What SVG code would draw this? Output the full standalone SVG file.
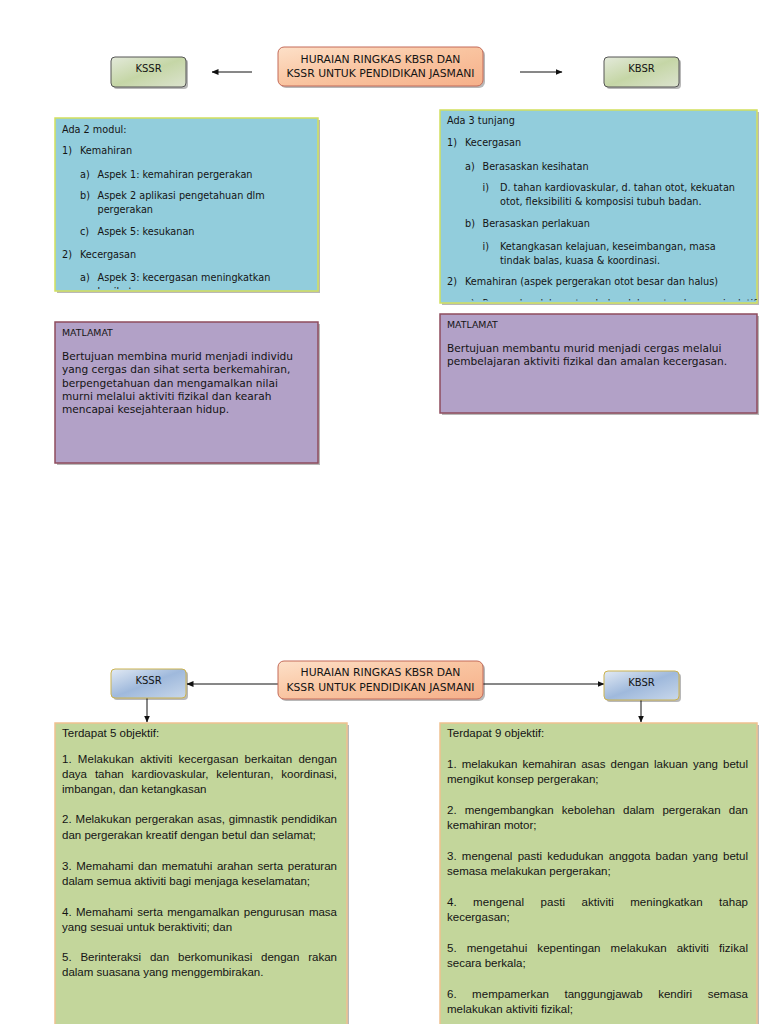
<svg xmlns="http://www.w3.org/2000/svg" width="768" height="1024" viewBox="0 0 768 1024">
<style>
.d{font-family:"DejaVu Sans",Verdana,sans-serif;fill:#141414}
.sm{font-size:9.7px}
.md{font-size:10.6px}
.hd{font-size:9.4px}
.ttl{font-size:10.8px;text-anchor:middle}
.lbl{font-size:10px;text-anchor:middle}
.g{font-family:"Liberation Sans",Arial,sans-serif;font-size:11.5px;fill:#141414}
.conn{stroke:#111;stroke-width:1;fill:none}
.shadow{fill:#000;opacity:0.28}
.hdrbox{fill:url(#peach);stroke:#c46a58;stroke-width:1}
.gbox{fill:url(#greenG);stroke:#555;stroke-width:1}
.bbox{fill:url(#blueG);stroke:#cbb24e;stroke-width:1}
.blue{fill:#92cddc;stroke:#d2df5e;stroke-width:1.5}
.purple{fill:#b2a1c7;stroke:#8e4c5e;stroke-width:1.5}
.green{fill:#c3d69b;stroke:#efc190;stroke-width:1.5}
</style>
<defs>
<linearGradient id="peach" x1="0" y1="0" x2="1" y2="1">
<stop offset="0" stop-color="#fde0c8"/><stop offset="0.5" stop-color="#f9c4a0"/><stop offset="1" stop-color="#f6b08a"/>
</linearGradient>
<linearGradient id="greenG" x1="0" y1="0" x2="1" y2="1">
<stop offset="0" stop-color="#e4eadb"/><stop offset="0.5" stop-color="#c5d6a6"/><stop offset="1" stop-color="#dce3cf"/>
</linearGradient>
<linearGradient id="blueG" x1="0" y1="0" x2="1" y2="1">
<stop offset="0" stop-color="#e2eaf4"/><stop offset="0.5" stop-color="#9fb9dc"/><stop offset="1" stop-color="#c9d8eb"/>
</linearGradient>
<marker id="ah" markerWidth="7" markerHeight="6" refX="6.5" refY="3" orient="auto" markerUnits="userSpaceOnUse">
<path d="M0,0 L7,3 L0,6 Z" fill="#111"/>
</marker>
<clipPath id="clipL"><rect x="55" y="118" width="263" height="171"/></clipPath>
<clipPath id="clipR"><rect x="440" y="110" width="317" height="190.5"/></clipPath>
</defs>
<rect width="768" height="1024" fill="#fff"/>

<g id="connectors">
<line class="conn" x1="252" y1="72" x2="212" y2="72" marker-end="url(#ah)"/>
<line class="conn" x1="520" y1="72" x2="562" y2="72" marker-end="url(#ah)"/>
<line class="conn" x1="278" y1="684" x2="187" y2="684" marker-end="url(#ah)"/>
<line class="conn" x1="483" y1="684" x2="604" y2="684" marker-end="url(#ah)"/>
<line class="conn" x1="147" y1="698" x2="147" y2="722" marker-end="url(#ah)"/>
<line class="conn" x1="641" y1="700" x2="641" y2="722" marker-end="url(#ah)"/>
</g>

<g id="top-header">
<rect class="shadow" x="280" y="49" width="205" height="39" rx="6"/>
<rect class="hdrbox" x="278" y="47" width="205" height="39" rx="6"/>
<text class="d ttl" x="380.5" y="62.5">HURAIAN RINGKAS KBSR DAN</text>
<text class="d ttl" x="380.5" y="76.5">KSSR UNTUK PENDIDIKAN JASMANI</text>
</g>
<g id="top-kssr">
<rect class="shadow" x="113" y="59" width="75" height="30" rx="4"/>
<rect class="gbox" x="111" y="57" width="75" height="30" rx="4"/>
<text class="d lbl" x="148.5" y="71.5">KSSR</text>
</g>
<g id="top-kbsr">
<rect class="shadow" x="606" y="59" width="75" height="30" rx="4"/>
<rect class="gbox" x="604" y="57" width="75" height="30" rx="4"/>
<text class="d lbl" x="641.5" y="71.5">KBSR</text>
</g>

<g id="kssr-modul">
<rect class="shadow" x="57" y="120" width="263" height="173"/>
<rect class="blue" x="55" y="118" width="263" height="173"/>
<g class="d sm" clip-path="url(#clipL)">
<text x="62" y="132.5">Ada 2 modul:</text>
<text x="62" y="154">1)</text><text x="80" y="154">Kemahiran</text>
<text x="80" y="177.5">a)</text><text x="97.5" y="177.5">Aspek 1: kemahiran pergerakan</text>
<text x="80" y="199">b)</text><text x="97.5" y="199">Aspek 2 aplikasi pengetahuan dlm</text>
<text x="97.5" y="212.7">pergerakan</text>
<text x="80" y="235">c)</text><text x="97.5" y="235">Aspek 5: kesukanan</text>
<text x="62" y="258">2)</text><text x="80" y="258">Kecergasan</text>
<text x="80" y="281">a)</text><text x="97.5" y="281">Aspek 3: kecergasan meningkatkan</text>
<text x="97.5" y="295">kesihatan</text>
</g>
</g>

<g id="kbsr-tunjang">
<rect class="shadow" x="442" y="112" width="317" height="193"/>
<rect class="blue" x="440" y="110" width="317" height="193"/>
<g class="d sm" clip-path="url(#clipR)">
<text x="447" y="124">Ada 3 tunjang</text>
<text x="447" y="146">1)</text><text x="465" y="146">Kecergasan</text>
<text x="465" y="169.5">a)</text><text x="482.5" y="169.5">Berasaskan kesihatan</text>
<text x="482.5" y="191">i)</text><text x="500" y="191">D. tahan kardiovaskular, d. tahan otot, kekuatan</text>
<text x="500" y="205">otot, fleksibiliti &amp; komposisi tubuh badan.</text>
<text x="465" y="227">b)</text><text x="482.5" y="227">Berasaskan perlakuan</text>
<text x="482.5" y="250">i)</text><text x="500" y="250">Ketangkasan kelajuan, keseimbangan, masa</text>
<text x="500" y="263.7">tindak balas, kuasa &amp; koordinasi.</text>
<text x="447" y="285">2)</text><text x="465" y="285">Kemahiran (aspek pergerakan otot besar dan halus)</text>
<text x="465" y="306.5">a)</text><text x="482.5" y="306.5">Pergerakan lokomotor, bukan lokomotor dan manipulatif</text>
</g>
</g>

<g id="kssr-matlamat">
<rect class="shadow" x="57" y="324" width="263" height="141"/>
<rect class="purple" x="55" y="322" width="263" height="141"/>
<text class="d hd" x="62" y="335.5">MATLAMAT</text>
<g class="d md">
<text x="62" y="360">Bertujuan membina murid menjadi individu</text>
<text x="62" y="373.3">yang cergas dan sihat serta berkemahiran,</text>
<text x="62" y="386.6">berpengetahuan dan mengamalkan nilai</text>
<text x="62" y="399.9">murni melalui aktiviti fizikal dan kearah</text>
<text x="62" y="413">mencapai kesejahteraan hidup.</text>
</g>
</g>

<g id="kbsr-matlamat">
<rect class="shadow" x="442" y="316" width="317" height="99"/>
<rect class="purple" x="440" y="314" width="317" height="99"/>
<text class="d hd" x="447" y="327.5">MATLAMAT</text>
<g class="d md">
<text x="447" y="352">Bertujuan membantu murid menjadi cergas melalui</text>
<text x="447" y="365.3">pembelajaran aktiviti fizikal dan amalan kecergasan.</text>
</g>
</g>

<g id="bottom-header">
<rect class="shadow" x="280" y="663" width="205" height="38" rx="6"/>
<rect class="hdrbox" x="278" y="661" width="205" height="38" rx="6"/>
<text class="d ttl" x="380.5" y="676">HURAIAN RINGKAS KBSR DAN</text>
<text class="d ttl" x="380.5" y="690.5">KSSR UNTUK PENDIDIKAN JASMANI</text>
</g>
<g id="bottom-kssr">
<rect class="shadow" x="113" y="671" width="75" height="29" rx="4"/>
<rect class="bbox" x="111" y="669" width="75" height="29" rx="4"/>
<text class="d lbl" x="148.5" y="683.5">KSSR</text>
</g>
<g id="bottom-kbsr">
<rect class="shadow" x="606" y="673" width="75" height="29" rx="4"/>
<rect class="bbox" x="604" y="671" width="75" height="29" rx="4"/>
<text class="d lbl" x="641.5" y="685.5">KBSR</text>
</g>

<g id="kssr-objektif">
<rect class="shadow" x="57" y="725" width="292" height="310"/>
<rect class="green" x="55" y="723" width="292" height="310"/>
<g class="g">
<text x="62" y="737">Terdapat 5 objektif:</text>
<text x="62" y="762.5" textLength="275" lengthAdjust="spacing" word-spacing="2.9">1. Melakukan aktiviti kecergasan berkaitan dengan</text>
<text x="62" y="777.7" textLength="275" lengthAdjust="spacing" word-spacing="4.7">daya tahan kardiovaskular, kelenturan, koordinasi,</text>
<text x="62" y="792.9">imbangan, dan ketangkasan</text>
<text x="62" y="823.3" textLength="275" lengthAdjust="spacing" word-spacing="0.8">2. Melakukan pergerakan asas, gimnastik pendidikan</text>
<text x="62" y="838.5">dan pergerakan kreatif dengan betul dan selamat;</text>
<text x="62" y="869.5" textLength="275" lengthAdjust="spacing" word-spacing="1.5">3. Memahami dan mematuhi arahan serta peraturan</text>
<text x="62" y="884.7">dalam semua aktiviti bagi menjaga keselamatan;</text>
<text x="62" y="915.5" textLength="275" lengthAdjust="spacing" word-spacing="1.2">4. Memahami serta mengamalkan pengurusan masa</text>
<text x="62" y="930.7">yang sesuai untuk beraktiviti; dan</text>
<text x="62" y="961" textLength="275" lengthAdjust="spacing" word-spacing="5.6">5. Berinteraksi dan berkomunikasi dengan rakan</text>
<text x="62" y="976.2">dalam suasana yang menggembirakan.</text>
</g>
</g>

<g id="kbsr-objektif">
<rect class="shadow" x="442" y="725" width="317" height="310"/>
<rect class="green" x="440" y="723" width="317" height="310"/>
<g class="g">
<text x="447" y="737">Terdapat 9 objektif:</text>
<text x="447" y="767.5" textLength="301" lengthAdjust="spacing" word-spacing="1.9">1. melakukan kemahiran asas dengan lakuan yang betul</text>
<text x="447" y="782.8">mengikut konsep pergerakan;</text>
<text x="447" y="813.5" textLength="301" lengthAdjust="spacing" word-spacing="5">2. mengembangkan kebolehan dalam pergerakan dan</text>
<text x="447" y="828.8">kemahiran motor;</text>
<text x="447" y="859.5" textLength="301" lengthAdjust="spacing" word-spacing="2.1">3. mengenal pasti kedudukan anggota badan yang betul</text>
<text x="447" y="874.8">semasa melakukan pergerakan;</text>
<text x="447" y="905.5" textLength="301" lengthAdjust="spacing" word-spacing="13.1">4. mengenal pasti aktiviti meningkatkan tahap</text>
<text x="447" y="920.8">kecergasan;</text>
<text x="447" y="951.5" textLength="301" lengthAdjust="spacing" word-spacing="6.8">5. mengetahui kepentingan melakukan aktiviti fizikal</text>
<text x="447" y="966.8">secara berkala;</text>
<text x="447" y="997.5" textLength="301" lengthAdjust="spacing" word-spacing="12.3">6. mempamerkan tanggungjawab kendiri semasa</text>
<text x="447" y="1012.8">melakukan aktiviti fizikal;</text>
</g>
</g>
</svg>
